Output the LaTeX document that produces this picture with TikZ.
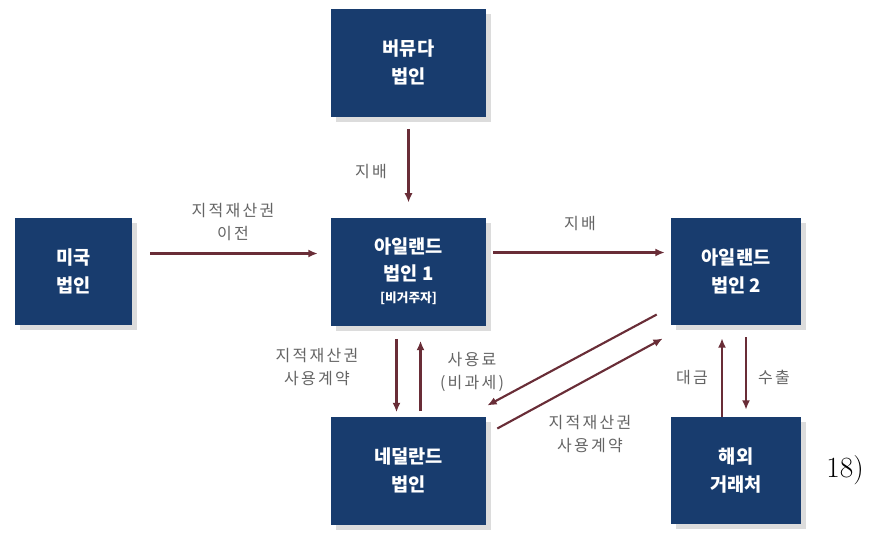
\documentclass[tikz,border=0pt]{standalone}
\usepackage{fontspec}
\newfontfamily\kr{Noto Sans CJK KR}
\newfontfamily\krlab[LetterSpace=14]{Noto Sans CJK KR}
\usetikzlibrary{shadows,arrows.meta}
\definecolor{navy}{RGB}{24,60,110}
\definecolor{arrowc}{RGB}{105,45,55}
\definecolor{labc}{RGB}{100,100,100}
\begin{document}
\begin{tikzpicture}[x=0.75pt,y=-0.75pt,
  box/.style={fill=navy, draw=none, text=white, align=center, inner sep=0pt,
    font=\kr\bfseries\fontsize{14}{20.5}\selectfont,
    drop shadow={opacity=0.28, shadow xshift=3.5pt, shadow yshift=-4pt}},
  widebox/.style={box, minimum width=116.25pt, minimum height=81pt},
  midbox/.style={box, minimum width=97.5pt, minimum height=80.25pt},
  narrowbox/.style={box, minimum width=87.75pt, minimum height=80.25pt},
  arr/.style={draw=arrowc, line width=1.6pt, -{Latex[length=7pt,width=6pt]}},
  lab/.style={text=labc, align=center, inner sep=0pt,
    font=\krlab\fontsize{12}{17.5}\selectfont}]
\useasboundingbox (0,0) rectangle (887,533);

% boxes
\node[widebox] (berm) at (408.5,62.5) {버뮤다\\법인};
\node[narrowbox] (us) at (73.5,271.5) {미국\\법인};
\node[widebox] (ire1) at (408.5,271.5) {아일랜드\\법인 1\\[-4pt]{\fontsize{9.5}{11}\selectfont [비거주자]}};
\node[midbox] (ire2) at (736,271.5) {아일랜드\\법인 2};
\node[widebox] (nl) at (408.5,470.5) {네덜란드\\법인};
\node[midbox] (ovs) at (736,470.5) {해외\\거래처};

% arrows
\draw[arr] ([yshift=-9pt]berm.south) -- ([yshift=11pt]ire1.north);
\draw[arr] ([shift={(18,-18)}]us.east) -- ([shift={(-13,-18)}]ire1.west);
\draw[arr] ([shift={(7,-19)}]ire1.east) -- ([shift={(-6,-19)}]ire2.west);
\draw[arr] ([shift={(-12,13)}]ire1.south) -- ([shift={(-12,-4)}]nl.north);
\draw[arr] ([shift={(12,-5)}]nl.north) -- ([shift={(12,15)}]ire1.south);
\draw[arr] ([shift={(-14,0)}]ovs.north) -- ([shift={(-14,13)}]ire2.south);
\draw[arr] ([shift={(10,12)}]ire2.south) -- ([shift={(10,-7)}]ovs.north);
\draw[arr] ([shift={(-14,43)}]ire2.west) -- ([shift={(1,-65)}]nl.east);
\draw[arr] ([shift={(11,-42)}]nl.east) -- ([shift={(-8,67)}]ire2.west);

% labels
\node[lab] (l1) at (371,172) {지배};
\node[lab] (l2) at (233,222) {지적재산권\\이전};
\node[lab] (l3) at (580,223) {지배};
\node[lab] (l4) at (317,367) {지적재산권\\사용계약};
\node[lab] (l5) at (472,372) {사용료\\(비과세)};
\node[lab] (l6) at (590,434) {지적재산권\\사용계약};
\node[lab] (l7) at (692,377) {대금};
\node[lab] (l8) at (774,377) {수출};

\node[font=\fontsize{22}{26}\selectfont, inner sep=0pt] (fn) at (845,470) {18)};
\end{tikzpicture}
\end{document}
